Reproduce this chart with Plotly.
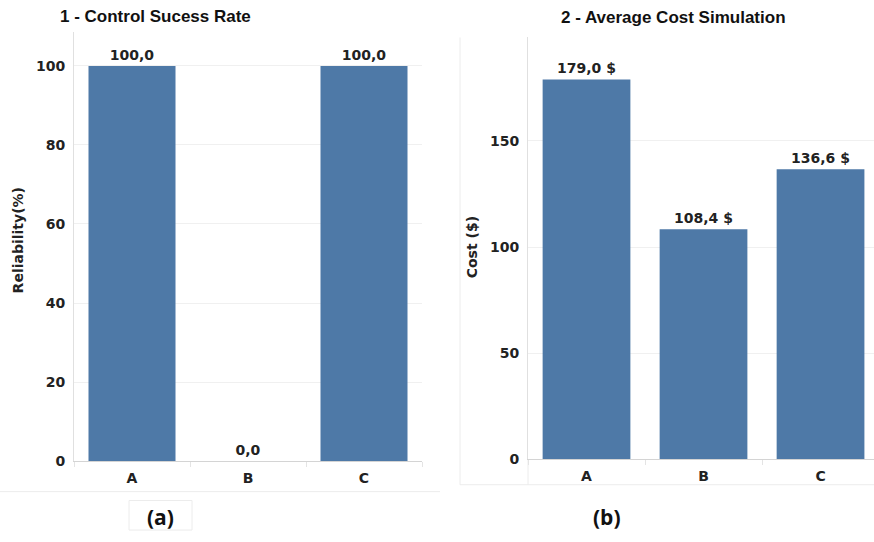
import plotly.graph_objects as go

categories = ["A", "B", "C"]
reliability = [100.0, 0.0, 100.0]
cost = [179.0, 108.4, 136.6]
rel_ticks = [0, 20, 40, 60, 80, 100]
cost_ticks = [0, 50, 100, 150]

W, H = 874, 542
def px(x):
    return x / W
def py(y):
    return 1 - y / H

BAR = "#4e79a7"
TICKFONT = dict(family="DejaVu Sans", size=14, color="#222222", weight="bold")
LABELFONT = dict(family="DejaVu Sans", size=14, color="#222222", weight="bold")
TITLEFONT = dict(family="Liberation Sans", size=17, color="#111111", weight="bold")

fig = go.Figure()
fig.add_trace(go.Bar(x=categories, y=reliability, xaxis="x", yaxis="y",
                     marker=dict(color=BAR, line=dict(width=0)),
                     width=0.75, texttemplate="%{y:.1f}", textposition="outside",
                     textfont=LABELFONT, cliponaxis=False, showlegend=False))
fig.add_trace(go.Bar(x=categories, y=cost, xaxis="x2", yaxis="y2",
                     marker=dict(color=BAR, line=dict(width=0)),
                     width=0.75, texttemplate="%{y:.1f} $", textposition="outside",
                     textfont=LABELFONT, cliponaxis=False, showlegend=False))

common_x = dict(type="category", showgrid=False, showline=True, linecolor="#d4d4d4",
                linewidth=1, ticks="outside", tickson="boundaries", ticklen=5,
                tickcolor="#e4e4e4", tickfont=TICKFONT, zeroline=False,
                ticklabelstandoff=4)
common_y = dict(showgrid=True, gridcolor="#f0f0f0", gridwidth=1, showline=True,
                linecolor="#e0e0e0", linewidth=1, ticks="", tickfont=TICKFONT,
                zeroline=False, ticklabelstandoff=5)

fig.update_layout(
    width=W, height=H, margin=dict(l=0, r=0, t=0, b=0),
    paper_bgcolor="white", plot_bgcolor="white", separators=",.",
    xaxis=dict(domain=[px(74), px(422)], range=[-0.5, 2.5], anchor="y", **common_x),
    yaxis=dict(domain=[py(468), py(32)], range=[0, 108.7], tickvals=rel_ticks,
               anchor="x", **common_y),
    xaxis2=dict(domain=[px(528), 1.0], range=[-0.5, 2.457], anchor="y2", **common_x),
    yaxis2=dict(domain=[py(466), py(38)], range=[0, 198.8], tickvals=cost_ticks,
                anchor="x2", **common_y),
)

ann = [
    dict(text="1 - Control Sucess Rate", x=px(155), y=py(17), font=TITLEFONT),
    dict(text="2 - Average Cost Simulation", x=px(673), y=py(18), font=TITLEFONT),
    dict(text="Reliability(%)", x=px(18), y=py(244), textangle=-90,
         font=dict(family="DejaVu Sans", size=14, color="#222222", weight="bold")),
    dict(text="Cost ($)", x=px(472), y=py(251), textangle=-90,
         font=dict(family="DejaVu Sans", size=14, color="#222222", weight="bold")),
    dict(text="(a)", x=px(160), y=py(525),
         font=dict(family="Open Sans", size=21, color="#111111", weight="bold")),
    dict(text="(b)", x=px(607), y=py(525),
         font=dict(family="Open Sans", size=21, color="#111111", weight="bold")),
]
for a in ann:
    fig.add_annotation(xref="paper", yref="paper", showarrow=False,
                       xanchor="center", yanchor="middle", **a)

faint = dict(color="#ececec", width=1)
shapes = [
    dict(type="line", x0=0, x1=px(440), y0=py(499), y1=py(499), line=faint),
    dict(type="line", x0=px(460), x1=1, y0=py(492), y1=py(492), line=faint),
    dict(type="line", x0=px(460), x1=px(460), y0=py(38), y1=py(492), line=faint),
    dict(type="line", x0=px(528), x1=px(528), y0=py(466), y1=py(492), line=faint),
    dict(type="rect", x0=px(129), x1=px(192), y0=py(538), y1=py(508), line=faint),
]
for s in shapes:
    fig.add_shape(xref="paper", yref="paper", layer="below", **s)

post = ("document.documentElement.style.margin='0px';"
        "document.body.style.margin='0px';"
        "document.documentElement.style.overflow='hidden';"
        "var gd=document.getElementById('{plot_id}');"
        "gd.style.position='fixed';gd.style.top='0px';gd.style.left='0px';"
        "var vh=window.innerHeight, vw=window.innerWidth;"
        "if (vh>0 && vw>0) { gd.style.height=vh+'px'; gd.style.width=vw+'px';"
        " Plotly.relayout(gd, {height: vh, width: vw}); }")
fig.write_html("out.html", config={"displayModeBar": False}, post_script=post)
